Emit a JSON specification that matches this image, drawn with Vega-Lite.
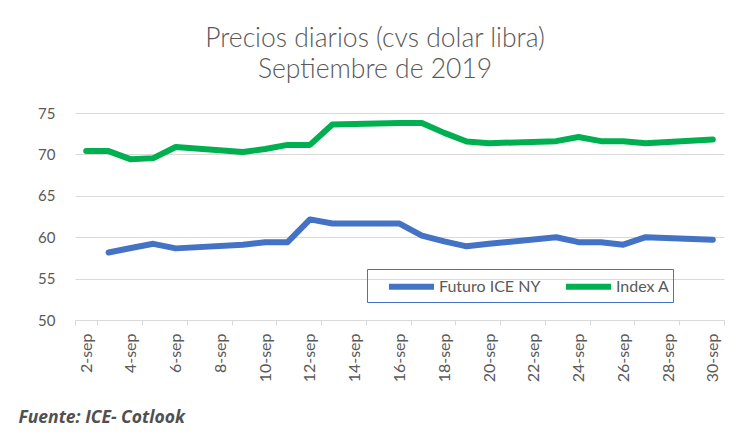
{
  "$schema": "https://vega.github.io/schema/vega-lite/v6.json",
  "width": 649,
  "height": 207,
  "autosize": {"type": "none"},
  "padding": {"left": 75, "top": 113, "right": 15, "bottom": 116},
  "background": "white",
  "title": {
    "text": ["Precios diarios (cvs dolar libra)", "Septiembre de 2019"],
    "font": "Lato", "fontSize": 26.5, "fontWeight": 300, "color": "#595959",
    "anchor": "middle", "frame": "group", "dx": -24.5, "offset": 1,
    "baseline": "alphabetic", "lineHeight": 31.3
  },
  "data": {"values": [
    {"date": "2-sep", "series": "Index A", "value": 70.4},
    {"date": "3-sep", "series": "Index A", "value": 70.4},
    {"date": "4-sep", "series": "Index A", "value": 69.4},
    {"date": "5-sep", "series": "Index A", "value": 69.55},
    {"date": "6-sep", "series": "Index A", "value": 70.9},
    {"date": "9-sep", "series": "Index A", "value": 70.3},
    {"date": "10-sep", "series": "Index A", "value": 70.65},
    {"date": "11-sep", "series": "Index A", "value": 71.15},
    {"date": "12-sep", "series": "Index A", "value": 71.15},
    {"date": "13-sep", "series": "Index A", "value": 73.6},
    {"date": "16-sep", "series": "Index A", "value": 73.8},
    {"date": "17-sep", "series": "Index A", "value": 73.8},
    {"date": "18-sep", "series": "Index A", "value": 72.6},
    {"date": "19-sep", "series": "Index A", "value": 71.55},
    {"date": "20-sep", "series": "Index A", "value": 71.35},
    {"date": "23-sep", "series": "Index A", "value": 71.6},
    {"date": "24-sep", "series": "Index A", "value": 72.1},
    {"date": "25-sep", "series": "Index A", "value": 71.6},
    {"date": "26-sep", "series": "Index A", "value": 71.6},
    {"date": "27-sep", "series": "Index A", "value": 71.35},
    {"date": "30-sep", "series": "Index A", "value": 71.8},
    {"date": "3-sep", "series": "Futuro ICE NY", "value": 58.15},
    {"date": "4-sep", "series": "Futuro ICE NY", "value": 58.7},
    {"date": "5-sep", "series": "Futuro ICE NY", "value": 59.2},
    {"date": "6-sep", "series": "Futuro ICE NY", "value": 58.65},
    {"date": "9-sep", "series": "Futuro ICE NY", "value": 59.1},
    {"date": "10-sep", "series": "Futuro ICE NY", "value": 59.4},
    {"date": "11-sep", "series": "Futuro ICE NY", "value": 59.4},
    {"date": "12-sep", "series": "Futuro ICE NY", "value": 62.15},
    {"date": "13-sep", "series": "Futuro ICE NY", "value": 61.65},
    {"date": "16-sep", "series": "Futuro ICE NY", "value": 61.65},
    {"date": "17-sep", "series": "Futuro ICE NY", "value": 60.2},
    {"date": "18-sep", "series": "Futuro ICE NY", "value": 59.5},
    {"date": "19-sep", "series": "Futuro ICE NY", "value": 58.9},
    {"date": "20-sep", "series": "Futuro ICE NY", "value": 59.2},
    {"date": "23-sep", "series": "Futuro ICE NY", "value": 60.0},
    {"date": "24-sep", "series": "Futuro ICE NY", "value": 59.4},
    {"date": "25-sep", "series": "Futuro ICE NY", "value": 59.4},
    {"date": "26-sep", "series": "Futuro ICE NY", "value": 59.1},
    {"date": "27-sep", "series": "Futuro ICE NY", "value": 60.0},
    {"date": "30-sep", "series": "Futuro ICE NY", "value": 59.7}
  ]},
  "mark": {"type": "line", "strokeWidth": 6, "strokeCap": "round", "strokeJoin": "round"},
  "encoding": {
    "x": {
      "field": "date", "type": "ordinal",
      "scale": {
        "type": "band", "paddingInner": 0, "paddingOuter": 0,
        "domain": ["2-sep","3-sep","4-sep","5-sep","6-sep","7-sep","8-sep","9-sep","10-sep","11-sep","12-sep","13-sep","14-sep","15-sep","16-sep","17-sep","18-sep","19-sep","20-sep","21-sep","22-sep","23-sep","24-sep","25-sep","26-sep","27-sep","28-sep","29-sep","30-sep"]
      },
      "axis": {
        "values": ["2-sep","4-sep","6-sep","8-sep","10-sep","12-sep","14-sep","16-sep","18-sep","20-sep","22-sep","24-sep","26-sep","28-sep","30-sep"],
        "labelAngle": -90, "tickBand": "extent", "grid": false,
        "domainColor": "#d9d9d9", "tickColor": "#d9d9d9", "tickSize": 5,
        "labelFont": "Lato", "labelFontSize": 16, "labelColor": "#595959", "labelPadding": 8,
        "title": "Fuente: ICE- Cotlook", "titleFont": "Open Sans", "titleFontStyle": "italic",
        "titleFontWeight": "bold", "titleFontSize": 17.5, "titleColor": "#505050",
        "titleAnchor": "start", "titleAlign": "left", "titleBaseline": "alphabetic",
        "titleX": -57, "titleY": 102.7
      }
    },
    "y": {
      "field": "value", "type": "quantitative",
      "scale": {"domain": [50, 75], "nice": false, "zero": false},
      "axis": {
        "values": [50, 55, 60, 65, 70, 75], "title": null, "domain": false, "ticks": false,
        "gridColor": "#d9d9d9", "labelFont": "Lato", "labelFontSize": 15,
        "labelColor": "#595959", "labelPadding": 20
      }
    },
    "color": {
      "field": "series", "type": "nominal",
      "scale": {"domain": ["Futuro ICE NY", "Index A"], "range": ["#4472C4", "#00B050"]},
      "legend": {
        "title": null, "orient": "none", "legendX": 292, "legendY": 156,
        "direction": "horizontal", "symbolType": "M-2,0H2", "symbolStrokeWidth": 6,
        "symbolSize": 506, "symbolOffset": 27, "labelOffset": 13,
        "labelFont": "Lato", "labelFontSize": 16, "labelColor": "#595959",
        "labelExpr": "datum.label == 'Index A' ? 'Index A      ' : datum.label",
        "strokeColor": "#4472C4", "padding": 3, "columnPadding": 6
      }
    }
  },
  "config": {"view": {"stroke": null}}
}
